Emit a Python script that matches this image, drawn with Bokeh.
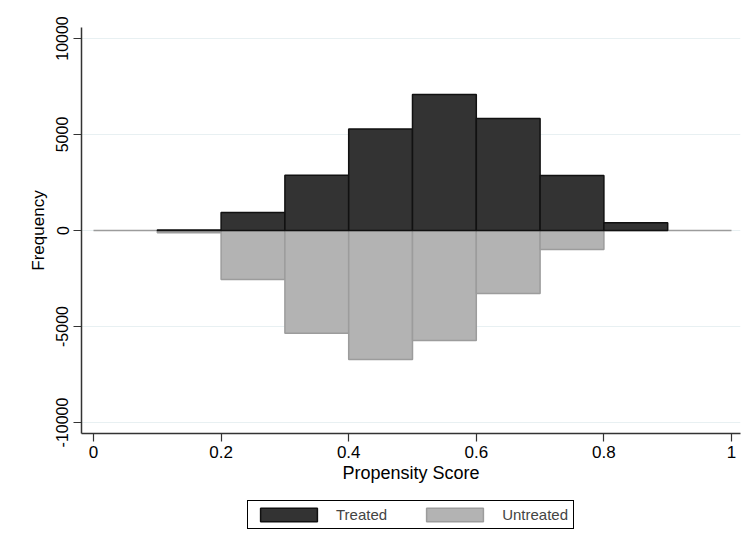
from bokeh.plotting import figure
from bokeh.layouts import column
from bokeh.models import Range1d, FixedTicker, Legend, LegendItem, ColumnDataSource
from bokeh.embed import file_html
from bokeh.resources import INLINE

# Histogram bins (propensity score), width 0.1
bin_left = [0.0, 0.1, 0.2, 0.3, 0.4, 0.5, 0.6, 0.7, 0.8, 0.9]
bin_right = [0.1, 0.2, 0.3, 0.4, 0.5, 0.6, 0.7, 0.8, 0.9, 1.0]
treated = [0, 30, 940, 2880, 5280, 7080, 5830, 2870, 400, 0]
untreated = [0, 120, 2550, 5350, 6720, 5730, 3280, 990, 0, 0]

x_ticks = [0, 0.2, 0.4, 0.6, 0.8, 1]
y_ticks = [-10000, -5000, 0, 5000, 10000]
y_tick_labels = ["-10000", "-5000", "0", "5000", "10000"]
series_names = ["Treated", "Untreated"]

FONT = "Liberation Sans"
T_FILL, T_LINE = "#333333", "#111111"
U_FILL, U_LINE = "#b3b3b3", "#9c9c9c"

p = figure(frame_width=659, frame_height=406, output_backend="svg", toolbar_location=None,
           x_range=Range1d(-0.0188, 1.0141), y_range=Range1d(-10573, 10573),
           min_border_left=81, min_border_right=13, min_border_top=27, min_border_bottom=57)

tr_idx = [i for i, v in enumerate(treated) if v > 0]
src_t = ColumnDataSource(dict(left=[bin_left[i] for i in tr_idx], right=[bin_right[i] for i in tr_idx],
                              top=[treated[i] for i in tr_idx], bottom=[0] * len(tr_idx)))
src_u = ColumnDataSource(dict(left=bin_left, right=bin_right,
                              top=[0] * len(untreated), bottom=[-v for v in untreated]))

p.quad(left="left", right="right", top="top", bottom="bottom", source=src_u,
       fill_color=U_FILL, line_color=U_LINE, line_width=1.5)
p.quad(left="left", right="right", top="top", bottom="bottom", source=src_t,
       fill_color=T_FILL, line_color=T_LINE, line_width=1.5)

p.outline_line_color = None
p.background_fill_color = "white"
p.border_fill_color = "white"

p.xgrid.visible = False
p.ygrid.ticker = FixedTicker(ticks=y_ticks)
p.ygrid.grid_line_color = "#e8f0f2"
p.ygrid.grid_line_width = 1.2

for ax in (p.xaxis[0], p.yaxis[0]):
    ax.axis_line_color = "#333333"
    ax.axis_line_width = 1.5
    ax.major_tick_line_color = "#333333"
    ax.major_tick_line_width = 1.2
    ax.major_tick_out = 8
    ax.major_tick_in = 0
    ax.minor_tick_line_color = None
    ax.major_label_text_font = FONT
    ax.axis_label_text_font = FONT
    ax.axis_label_text_font_style = "normal"
    ax.major_label_text_color = "black"
    ax.axis_label_text_color = "black"

p.xaxis.ticker = FixedTicker(ticks=x_ticks)
p.xaxis.major_label_overrides = {0: "0", 1: "1"}
p.xaxis.axis_label = "Propensity Score"
p.xaxis.major_label_text_font_size = "17px"
p.xaxis.axis_label_text_font_size = "18px"
p.xaxis.major_label_standoff = 4
p.xaxis.axis_label_standoff = 2

p.yaxis.ticker = FixedTicker(ticks=y_ticks)
p.yaxis.major_label_overrides = dict(zip(y_ticks, y_tick_labels))
p.yaxis.axis_label = "Frequency"
p.yaxis.major_label_orientation = "parallel"
p.yaxis.major_label_text_font_size = "16px"
p.yaxis.axis_label_text_font_size = "17px"
p.yaxis.major_label_standoff = 5
p.yaxis.axis_label_standoff = 6

# Legend strip below the chart (swatch renderers hold no visible data)
lg = figure(width=753, height=64, output_backend="svg", toolbar_location=None,
            x_range=Range1d(0, 1), y_range=Range1d(0, 1),
            min_border=0, min_border_left=0, min_border_right=0, min_border_top=0, min_border_bottom=0)
lg.axis.visible = False
lg.grid.visible = False
lg.outline_line_color = None
nan = float("nan")
blank = dict(left=[nan], right=[nan], top=[nan], bottom=[nan])
lt = lg.quad(left="left", right="right", top="top", bottom="bottom", source=ColumnDataSource(dict(blank)),
             fill_color=T_FILL, line_color=T_LINE, line_width=1.5)
lu = lg.quad(left="left", right="right", top="top", bottom="bottom", source=ColumnDataSource(dict(blank)),
             fill_color=U_FILL, line_color=U_LINE, line_width=1.5)

legend = Legend(items=[LegendItem(label=series_names[0], renderers=[lt], index=0),
                       LegendItem(label=series_names[1], renderers=[lu], index=0)],
                orientation="horizontal", location=(166, 25))
legend.glyph_width = 71
legend.glyph_height = 17
legend.label_text_font = FONT
legend.label_text_font_size = "15px"
legend.label_standoff = 12
legend.spacing = 32
legend.padding = 5
legend.margin = 0
legend.border_line_color = "black"
legend.border_line_alpha = 1
legend.border_line_width = 1
legend.background_fill_alpha = 1
lg.add_layout(legend)

layout = column(p, lg, spacing=0)
open("out.html", "w").write(file_html(layout, INLINE))
